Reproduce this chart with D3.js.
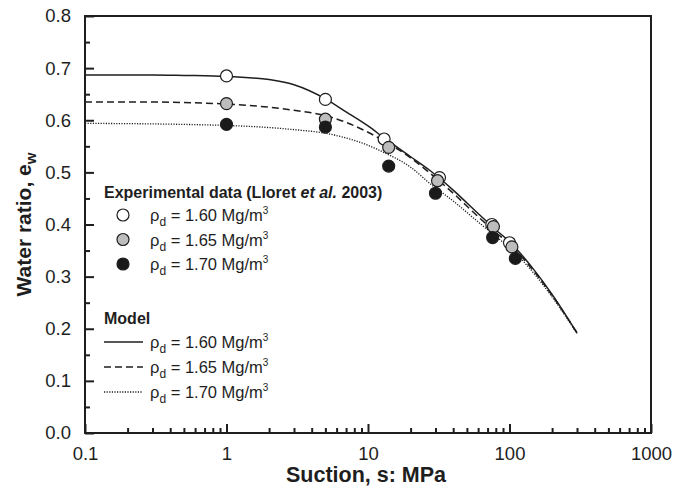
<!DOCTYPE html>
<html>
<head>
<meta charset="utf-8">
<script src="https://cdn.jsdelivr.net/npm/d3@7/dist/d3.min.js"></script>
<style>
  html, body { margin: 0; padding: 0; background: #fff; }
  svg { display: block; font-family: "Liberation Sans", Arial, sans-serif; }
</style>
</head>
<body>
<svg id="chart" width="674" height="494"></svg>
<script>
// Measured water ratio (Lloret et al. 2003) for three dry densities
const densities = ["1.60", "1.65", "1.70"];
const expSuction160 = [1, 5, 13, 32, 75, 100];
const expWater160   = [0.685, 0.640, 0.564, 0.490, 0.400, 0.365];
const expSuction165 = [1, 5, 14, 31, 77, 104];
const expWater165   = [0.632, 0.602, 0.548, 0.484, 0.396, 0.357];
const expSuction170 = [1, 5, 14, 30, 76, 110];
const expWater170   = [0.592, 0.587, 0.512, 0.460, 0.375, 0.335];

// Model curves
const modelSuction = [0.1, 0.3, 0.5, 1, 2, 3, 5, 7, 10, 13, 20, 27, 40, 60, 80, 100, 150, 200, 300];
const model160 = [0.687, 0.687, 0.686, 0.684, 0.678, 0.668, 0.641, 0.616, 0.589, 0.566, 0.530, 0.505, 0.466, 0.421, 0.390, 0.367, 0.312, 0.266, 0.192];
const model165 = [0.635, 0.635, 0.634, 0.631, 0.625, 0.619, 0.609, 0.596, 0.577, 0.560, 0.528, 0.500, 0.460, 0.415, 0.385, 0.362, 0.309, 0.264, 0.192];
const model170 = [0.594, 0.593, 0.592, 0.590, 0.586, 0.582, 0.575, 0.566, 0.552, 0.538, 0.510, 0.480, 0.445, 0.405, 0.377, 0.356, 0.305, 0.261, 0.191];

const yTickValues = [0.0, 0.1, 0.2, 0.3, 0.4, 0.5, 0.6, 0.7, 0.8];
const xTickValues = [0.1, 1, 10, 100, 1000];

const markerFills = ["#ffffff", "#bdbdbd", "#1a1a1a"];
const lineDash = [null, "7,4", "1.2,1.4"];

const svg = d3.select("#chart");
const plotLeft = 85, plotRight = 651, plotTop = 16, plotBottom = 433;
const ink = "#1e1e1e";

const x = d3.scaleLog().domain([0.1, 1000]).range([plotLeft, plotRight]);
const y = d3.scaleLinear().domain([0, 0.8]).range([plotBottom, plotTop]);

// Minor ticks
const xMinor = [];
for (let d = 0.1; d < 1000; d *= 10) for (let k = 2; k <= 9; k++) xMinor.push(d * k);
const yMinor = d3.range(0.05, 0.8, 0.1);

const g = svg.append("g");

// Model lines
const line = d3.line().x(d => x(d[0])).y(d => y(d[1])).curve(d3.curveMonotoneX);
[model160, model165, model170].forEach((vals, i) => {
  g.append("path")
    .datum(modelSuction.map((s, j) => [s, vals[j]]))
    .attr("d", line)
    .attr("fill", "none")
    .attr("stroke", ink)
    .attr("stroke-width", i === 2 ? 1.3 : 1.5)
    .attr("stroke-dasharray", lineDash[i]);
});

// Data points
[[expSuction160, expWater160], [expSuction165, expWater165], [expSuction170, expWater170]].forEach((ser, i) => {
  g.selectAll(null).data(ser[0].map((s, j) => [s, ser[1][j]])).enter()
    .append("circle")
    .attr("cx", d => x(d[0])).attr("cy", d => y(d[1]))
    .attr("r", 6)
    .attr("fill", markerFills[i])
    .attr("stroke", ink).attr("stroke-width", 1.2);
});

// Axes frame
g.append("rect").attr("x", plotLeft).attr("y", plotTop).attr("width", plotRight - plotLeft).attr("height", plotBottom - plotTop)
  .attr("fill", "none").attr("stroke", ink).attr("stroke-width", 2);

// x axis ticks (inward)
const xAxis = d3.axisBottom(x).tickValues(xTickValues).tickSize(-9).tickPadding(14)
  .tickFormat(d => d3.format("~g")(d));
const xg = svg.append("g").attr("transform", `translate(0,${plotBottom})`).call(xAxis);
xg.select(".domain").remove();
xg.selectAll(".tick line").attr("stroke", ink).attr("stroke-width", 2);
xg.selectAll(".tick text").attr("font-size", 18.5).attr("fill", ink).attr("font-family", "Liberation Sans, Arial, sans-serif");
const xgm = svg.append("g").attr("transform", `translate(0,${plotBottom})`)
  .call(d3.axisBottom(x).tickValues(xMinor).tickSize(-5).tickFormat(""));
xgm.select(".domain").remove();
xgm.selectAll(".tick line").attr("stroke", ink).attr("stroke-width", 2);

// y axis ticks (inward)
const yAxis = d3.axisLeft(y).tickValues(yTickValues).tickSize(-9).tickPadding(14).tickFormat(d3.format(".1f"));
const yg = svg.append("g").attr("transform", `translate(${plotLeft},0)`).call(yAxis);
yg.select(".domain").remove();
yg.selectAll(".tick line").attr("stroke", ink).attr("stroke-width", 2);
yg.selectAll(".tick text").attr("font-size", 18.5).attr("fill", ink).attr("font-family", "Liberation Sans, Arial, sans-serif");
const ygm = svg.append("g").attr("transform", `translate(${plotLeft},0)`)
  .call(d3.axisLeft(y).tickValues(yMinor).tickSize(-5).tickFormat(""));
ygm.select(".domain").remove();
ygm.selectAll(".tick line").attr("stroke", ink).attr("stroke-width", 2);

// Axis titles
svg.append("text").attr("x", 366).attr("y", 482)
  .attr("text-anchor", "middle").attr("font-size", 21.5).attr("font-weight", "bold").attr("fill", ink)
  .text("Suction, s: MPa");
const yt = svg.append("text").attr("transform", `translate(31,${(plotTop + plotBottom) / 2}) rotate(-90)`)
  .attr("text-anchor", "middle").attr("font-size", 21).attr("font-weight", "bold").attr("fill", ink);
yt.append("tspan").text("Water ratio, e");
yt.append("tspan").attr("font-size", 15).attr("dy", 5).text("w");

// Legend
function densityLabel(sel, d) {
  sel.append("tspan").text("ρ");
  sel.append("tspan").attr("font-size", 12).attr("dy", 5).text("d");
  sel.append("tspan").attr("dy", -5).text(` = ${d} Mg/m`);
  sel.append("tspan").attr("font-size", 10).attr("dy", -7).text("3");
}

const leg = svg.append("g");
const exTitle = leg.append("text").attr("x", 104).attr("y", 198).attr("font-size", 16).attr("font-weight", "bold").attr("fill", ink);
exTitle.append("tspan").text("Experimental data (Lloret ");
exTitle.append("tspan").attr("font-style", "italic").text("et al.");
exTitle.append("tspan").text(" 2003)");

densities.forEach((d, i) => {
  const cy = 215 + i * 24.5;
  leg.append("circle").attr("cx", 123).attr("cy", cy).attr("r", 6)
    .attr("fill", markerFills[i]).attr("stroke", ink).attr("stroke-width", 1.2);
  const t = leg.append("text").attr("x", 150).attr("y", cy + 6).attr("font-size", 16.5).attr("fill", ink);
  densityLabel(t, d);
});

leg.append("text").attr("x", 104).attr("y", 324).attr("font-size", 16).attr("font-weight", "bold").attr("fill", ink).text("Model");
densities.forEach((d, i) => {
  const cy = 342 + i * 25;
  leg.append("line").attr("x1", 104).attr("x2", 143).attr("y1", cy).attr("y2", cy)
    .attr("stroke", ink).attr("stroke-width", i === 2 ? 1.3 : 1.5).attr("stroke-dasharray", lineDash[i]);
  const t = leg.append("text").attr("x", 150).attr("y", cy + 6).attr("font-size", 16.5).attr("fill", ink);
  densityLabel(t, d);
});
</script>
</body>
</html>
